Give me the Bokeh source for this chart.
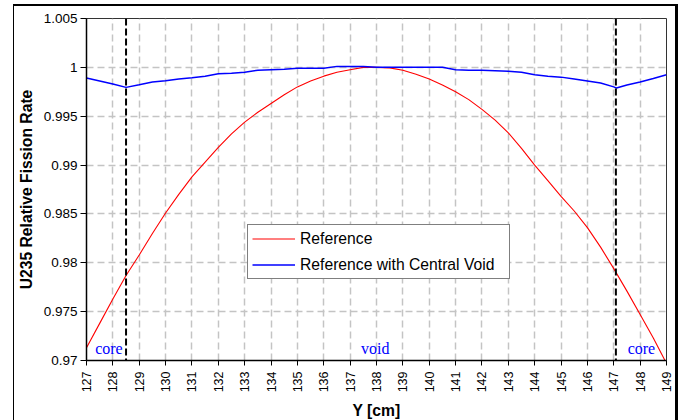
import math
from bokeh.plotting import figure
from bokeh.models import (Range1d, FixedTicker, Legend, LegendItem, Span, Label)
from bokeh.embed import file_html
from bokeh.resources import INLINE

# ---------------- data ----------------
ref_x = [127, 127.5, 128, 128.5, 129, 129.5, 130, 130.5, 131, 131.5, 132, 132.5,
         133, 133.5, 134, 134.5, 135, 135.5, 136, 136.5, 137, 137.5, 138, 138.5,
         139, 139.5, 140, 140.5, 141, 141.5, 142, 142.5, 143, 143.5, 144, 144.5,
         145, 145.5, 146, 146.5, 147, 147.5, 148, 148.5, 149]
ref_y = [0.9713, 0.9738, 0.9763, 0.9787, 0.9808, 0.9830, 0.9851, 0.9870, 0.9888,
         0.9903, 0.9918, 0.9932, 0.9944, 0.9954, 0.9963, 0.9972, 0.9980, 0.9986,
         0.9991, 0.9995, 0.99975, 1.0000, 1.0000, 0.99995, 0.9997, 0.9993, 0.9988,
         0.9982, 0.9975, 0.9967, 0.9957, 0.9946, 0.9933, 0.9917, 0.9900, 0.9884,
         0.9868, 0.9853, 0.9836, 0.9816, 0.9794, 0.9771, 0.9747, 0.9723, 0.9697]

void_x = [127, 127.5, 128, 128.5, 129, 129.5, 130, 130.5, 131, 131.5, 132, 132.5,
          133, 133.5, 134, 134.5, 135, 135.5, 136, 136.5, 137, 137.5, 138, 138.5,
          139, 139.5, 140, 140.5, 141, 141.5, 142, 142.5, 143, 143.5, 144, 144.5,
          145, 145.5, 146, 146.5, 147, 147.1, 147.5, 148, 148.5, 149]
void_y = [0.9989, 0.9986, 0.9983, 0.99795, 0.99822, 0.9985, 0.99863, 0.9988,
          0.99894, 0.9991, 0.99934, 0.9994, 0.9995, 0.9997, 0.99975, 0.9998,
          0.9999, 0.9999, 0.9999, 1.0001, 1.0001, 1.0001, 1.0000, 1.0000, 1.0000,
          1.0000, 1.0000, 1.0000, 0.99975, 0.9997, 0.9997, 0.99965, 0.9996,
          0.9995, 0.99924, 0.9991, 0.9990, 0.9988, 0.9986, 0.9984, 0.9980,
          0.99788, 0.9982, 0.9985, 0.99885, 0.99924]

series_names = ["Reference", "Reference with Central Void"]
boundary_x = [128.5, 147.08]
region_names = ["core", "void", "core"]
region_x = [127.85, 137.95, 148.05]
region_y = [0.9712, 0.9712, 0.9712]

x_ticks = list(range(127, 150))
x_tick_labels = [str(v) for v in x_ticks]
y_ticks = [0.97, 0.975, 0.98, 0.985, 0.99, 0.995, 1.0, 1.005]
y_tick_labels = ["0.97", "0.975", "0.98", "0.985", "0.99", "0.995", "1", "1.005"]

# ---------------- figure ----------------
SANS = "Liberation Sans"
SERIF = "Liberation Serif"

p = figure(frame_width=580, frame_height=342,
           min_border_left=72, min_border_right=9, min_border_top=12, min_border_bottom=62,
           x_range=Range1d(127, 149), y_range=Range1d(0.97, 1.005),
           output_backend="svg", toolbar_location=None)
p.margin = (4, 0, 0, 13)
p.styles = {"border-left": "1px solid black", "border-top": "2px solid black",
            "border-right": "3px solid black"}
p.background_fill_color = "white"
p.border_fill_color = "white"
p.outline_line_color = "#333333"
p.outline_line_width = 1

# grids
for g in (p.xgrid, p.ygrid):
    g.grid_line_color = "#c4c4c4"
    g.grid_line_width = 1.5
    g.grid_line_dash = "7 4"
p.xgrid.ticker = FixedTicker(ticks=x_ticks)
p.ygrid.ticker = FixedTicker(ticks=y_ticks)

# axes
xa = p.xaxis[0]
ya = p.yaxis[0]
xa.ticker = FixedTicker(ticks=x_ticks)
ya.ticker = FixedTicker(ticks=y_ticks)
xa.major_label_overrides = {t: l for t, l in zip(x_ticks, x_tick_labels)}
ya.major_label_overrides = {t: l for t, l in zip(y_ticks, y_tick_labels)}
xa.major_label_orientation = math.pi / 2
for ax in (xa, ya):
    ax.axis_line_color = "black"
    ax.axis_line_width = 1.5
    ax.major_tick_line_color = "black"
    ax.major_tick_line_width = 1
    ax.major_tick_in = 0
    ax.minor_tick_line_color = None
    ax.major_label_text_font = SANS
    ax.major_label_text_color = "black"
    ax.axis_label_text_font = SANS
    ax.axis_label_text_font_style = "bold"
    ax.axis_label_text_font_size = "15.7px"
    ax.axis_label_text_color = "black"
xa.major_tick_out = 5
xa.major_label_standoff = 6
xa.major_label_text_font_size = "12.5px"
xa.axis_label = "Y [cm]"
xa.axis_label_standoff = 7
ya.major_tick_out = 6
ya.major_label_standoff = 3
ya.major_label_text_font_size = "13.5px"
ya.axis_label = "U235 Relative Fission Rate"
ya.axis_label_standoff = 6

# boundary lines
for bx in boundary_x:
    p.add_layout(Span(location=bx, dimension="height", line_color="black",
                      line_width=2, line_dash="7 3"))

# series
r1 = p.line(ref_x, ref_y, line_color="#ff0000", line_width=1.1)
r2 = p.line(void_x, void_y, line_color="#0000ff", line_width=1.5)

# region labels
for name, rx, ry in zip(region_names, region_x, region_y):
    p.add_layout(Label(x=rx, y=ry, text=name, text_align="center",
                       text_baseline="alphabetic",
                       text_font=SERIF, text_font_size="16px", text_color="#0000ff"))

legend = Legend(items=[LegendItem(label=series_names[0], renderers=[r1]),
                       LegendItem(label=series_names[1], renderers=[r2])],
                location=(161, 81))
legend.padding = 4
legend.margin = 0
legend.spacing = 7
legend.glyph_width = 43
legend.glyph_height = 19
legend.label_height = 19
legend.label_width = 205
legend.label_standoff = 5
legend.label_text_font = SANS
legend.label_text_font_size = "15.7px"
legend.label_text_color = "black"
legend.border_line_color = "black"
legend.border_line_width = 1.5
legend.background_fill_color = "white"
legend.background_fill_alpha = 1.0
p.add_layout(legend)

open("out.html", "w").write(file_html(p, INLINE))
